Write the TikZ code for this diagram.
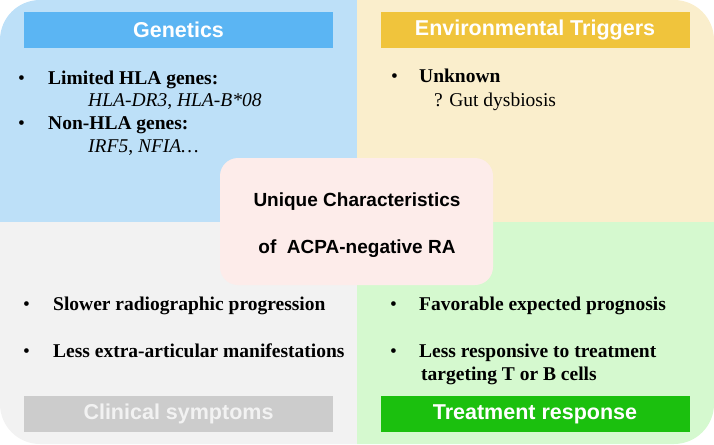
\documentclass[tikz,border=0pt]{standalone}
\usepackage{fontspec}
\setmainfont{Liberation Serif}
\setsansfont{Liberation Sans}
\definecolor{genback}{RGB}{189,224,248}
\definecolor{genbar}{RGB}{91,181,243}
\definecolor{envback}{RGB}{250,238,204}
\definecolor{envbar}{RGB}{240,196,60}
\definecolor{clinback}{RGB}{242,242,242}
\definecolor{clinbar}{RGB}{204,204,204}
\definecolor{treatback}{RGB}{213,249,207}
\definecolor{treatbar}{RGB}{27,192,14}
\definecolor{coreback}{RGB}{253,236,234}
\tikzset{
	header/.style={minimum width=309pt,minimum height=36pt,inner sep=0pt,text=white,font=\sffamily\bfseries\fontsize{21.5}{24}\selectfont},
	item/.style={anchor=base west,inner sep=0pt,font=\fontsize{19.5}{23}\selectfont\bfseries},
	sub/.style={anchor=base west,inner sep=0pt,font=\fontsize{19.5}{23}\selectfont\itshape},
	plain/.style={anchor=base west,inner sep=0pt,font=\fontsize{19.5}{23}\selectfont},
}
\begin{document}
\begin{tikzpicture}[x=1pt,y=-1pt]
	\useasboundingbox (0,0) rectangle (714,444);
	% four quadrants
	\fill[genback] (357,222) -- (0,222) [rounded corners=40pt] -- (0,0) [sharp corners] -- (357,0) -- cycle;
	\fill[envback] (357,222) -- (357,0) [rounded corners=40pt] -- (714,0) [sharp corners] -- (714,222) -- cycle;
	\fill[clinback] (357,222) -- (357,444) [rounded corners=40pt] -- (0,444) [sharp corners] -- (0,222) -- cycle;
	\fill[treatback] (357,222) -- (714,222) [rounded corners=40pt] -- (714,444) [sharp corners] -- (357,444) -- cycle;
	% headers
	\node[header,fill=genbar] (genetics) at (178.5,30) {Genetics};
	\node[header,fill=envbar] (environment) at (535,30) {Environmental Triggers};
	\node[header,fill=clinbar,text=clinback] (clinical) at (178.5,414) {Clinical symptoms};
	\node[header,fill=treatbar] (treatment) at (535,414) {Treatment response};
	% genetics
	\node[plain] (gbulA) at (18,84) {\textbullet};
	\node[item] (hla) at (48,84) {Limited HLA genes:};
	\node[sub] (hlalist) at (88,106) {HLA-DR3\textup{,} HLA-B*08};
	\node[plain] (gbulB) at (18,129) {\textbullet};
	\node[item] (nonhla) at (48,129) {Non-HLA genes:};
	\node[sub] (nonhlalist) at (88,152) {IRF5\textup{,} NFIA\dots};
	% environment
	\node[plain] (ebul) at (391,82) {\textbullet};
	\node[item] (unknown) at (419,82) {Unknown};
	\node[plain] (gut) at (434,106) {? Gut dysbiosis};
	% clinical symptoms
	\node[plain] (cbulA) at (23,310) {\textbullet};
	\node[item] (slower) at (53,310) {Slower radiographic progression};
	\node[plain] (cbulB) at (23,357) {\textbullet};
	\node[item] (extra) at (53,357) {Less extra-articular manifestations};
	% treatment response
	\node[plain] (tbulA) at (390,310) {\textbullet};
	\node[item] (prognosis) at (419,310) {Favorable expected prognosis};
	\node[plain] (tbulB) at (390,357) {\textbullet};
	\node[item] (responsive) at (419,357) {Less responsive to treatment};
	\node[item] (targeting) at (421,380) {targeting T or B cells};
	% centre
	\node[fill=coreback,rounded corners=18pt,minimum width=273pt,minimum height=127pt] (core) at (356.5,221.5) {};
	\node[align=center,inner sep=0pt,font=\sffamily\bfseries\fontsize{19}{47}\selectfont] (coretext) at (357,225) {Unique Characteristics\\of~~ACPA-negative RA};
\end{tikzpicture}
\end{document}
